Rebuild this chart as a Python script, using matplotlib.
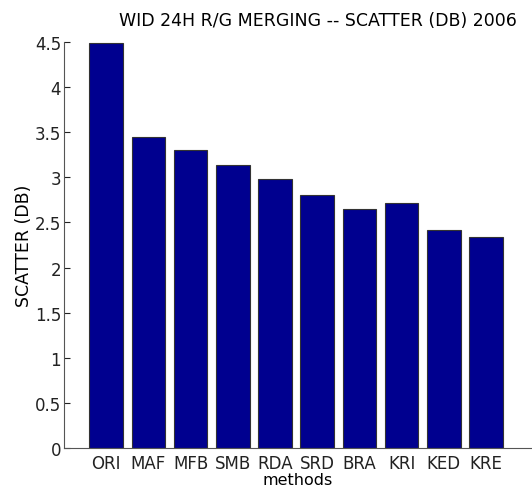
import matplotlib.pyplot as plt
import numpy as np

plt.rcParams['font.family'] = ['DejaVu Sans']

methods = ['ORI', 'MAF', 'MFB', 'SMB', 'RDA', 'SRD', 'BRA', 'KRI', 'KED', 'KRE']
scatter_db = [4.49, 3.44, 3.30, 3.14, 2.98, 2.80, 2.65, 2.71, 2.42, 2.34]

fig = plt.figure(figsize=(5.32, 4.89), dpi=100)
ax = fig.add_axes([64/532, 1-449.3/489, 1-64/532, (449.3-42.7)/489])

x = np.arange(1, len(methods)+1)
ax.bar(x, scatter_db, width=0.8, color='#00008F', edgecolor='#333333', linewidth=0.8)

ax.set_xlim(0, (532-64)/42.2)
ax.set_ylim(0, 4.5)
ax.set_yticks(np.arange(0, 4.51, 0.5))
ax.set_yticklabels(['0', '0.5', '1', '1.5', '2', '2.5', '3', '3.5', '4', '4.5'])
ax.set_xticks(x)
ax.set_xticklabels(methods)
ax.tick_params(direction='in', length=4, labelsize=12, colors='#222222', pad=2)
ax.tick_params(axis='x', length=0, pad=4)

for s in ['top', 'right']:
    ax.spines[s].set_visible(False)
for s in ['left', 'bottom']:
    ax.spines[s].set_color('#555555')
    ax.spines[s].set_linewidth(0.8)

ax.set_ylabel('SCATTER (DB)', fontsize=12.5, labelpad=1)
ax.set_xlabel('methods', fontsize=11.5, labelpad=0)
ax.set_title('WID 24H R/G MERGING -- SCATTER (DB) 2006', fontsize=12.5, x=(318-64)/468, pad=12)

plt.savefig('out.png', dpi=100)
